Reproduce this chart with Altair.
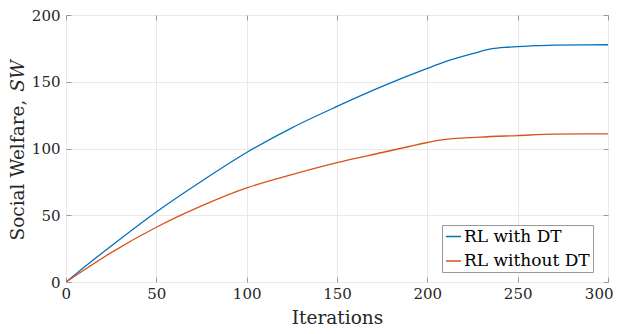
import altair as alt
import pandas as pd

# Series
iter_dt = [0, 10, 25, 50, 75, 100, 125, 150, 175, 200, 210, 225, 236, 243, 250, 260, 270, 300]
sw_dt = [0, 11, 27, 52.5, 75.5, 97, 115.5, 131.5, 146.5, 160, 165, 171, 174.8, 175.8, 176.3, 177, 177.5, 177.7]

iter_nodt = [0, 10, 25, 50, 75, 100, 125, 150, 175, 190, 200, 207, 229, 250, 270, 300]
sw_nodt = [0, 9, 22, 41, 57, 70.5, 80.5, 89.5, 97, 101.5, 104.5, 106.3, 108.5, 109.7, 110.8, 111]

series_names = ["RL with DT", "RL without DT"]
series_colors = ["#0072BD", "#D95319"]

x_ticks = [0, 50, 100, 150, 200, 250, 300]
y_ticks = [0, 50, 100, 150, 200]

ytitle_main = ["Social Welfare,"]
ytitle_sym = ["SW"]

rows = [{"Iterations": i, "SW": v, "Series": series_names[0]} for i, v in zip(iter_dt, sw_dt)]
rows += [{"Iterations": i, "SW": v, "Series": series_names[1]} for i, v in zip(iter_nodt, sw_nodt)]
df = pd.DataFrame(rows)

FONT = "DejaVu Serif"
FRAME = "#9a9a9a"
TXT = "#262626"

xscale = alt.Scale(domain=[0, 300], nice=False, zero=False)
yscale = alt.Scale(domain=[0, 200], nice=False, zero=False)

lines = alt.Chart(df).mark_line(strokeWidth=1.3, clip=True, interpolate="monotone").encode(
    x=alt.X("Iterations:Q", scale=xscale,
            axis=alt.Axis(orient="bottom", values=x_ticks, title="Iterations", grid=True,
                          domain=False, ticks=True, tickSize=5, offset=-5, tickColor=FRAME,
                          labelPadding=4, labelFlush=True, labelFlushOffset=5,
                          labelFont=FONT, labelFontSize=15, labelColor=TXT,
                          titleFont=FONT, titleFontSize=18.5,
                          titleFontWeight="normal", titleColor=TXT, titlePadding=7,
                          gridColor="#e9e9e9", gridWidth=1)),
    y=alt.Y("SW:Q", scale=yscale,
            axis=alt.Axis(orient="left", values=y_ticks, title=None, grid=True,
                          domain=False, ticks=True, tickSize=5, offset=-5, tickColor=FRAME,
                          labelPadding=6, labelFlush=False, labelFont=FONT, labelFontSize=15,
                          labelColor=TXT, gridColor="#e9e9e9", gridWidth=1)),
    color=alt.Color("Series:N",
                    scale=alt.Scale(domain=series_names, range=series_colors),
                    legend=alt.Legend(orient="none", legendX=376, legendY=210, title=None,
                                      symbolType="stroke", symbolSize=225, symbolStrokeWidth=1.5,
                                      labelFont=FONT, labelFontSize=17, labelColor="#000000",
                                      labelOffset=2, rowPadding=6.5, padding=3,
                                      strokeColor=FRAME, fillColor="#ffffff")),
)

ticks_tr = alt.Chart(df).mark_line(opacity=0).encode(
    x=alt.X("Iterations:Q", scale=xscale,
            axis=alt.Axis(orient="top", values=x_ticks, title=None, labels=False, grid=False,
                          domain=False, ticks=True, tickSize=5, offset=-5, tickColor=FRAME)),
    y=alt.Y("SW:Q", scale=yscale,
            axis=alt.Axis(orient="right", values=y_ticks, title=None, labels=False, grid=False,
                          domain=False, ticks=True, tickSize=5, offset=-5, tickColor=FRAME)),
)

t_main = alt.Chart(pd.DataFrame({"t": ytitle_main})).mark_text(
    angle=270, align="left", baseline="alphabetic", font=FONT, fontSize=18.5, color=TXT
).encode(x=alt.value(-42), y=alt.value(225.5), text="t:N")

t_sym = alt.Chart(pd.DataFrame({"t": ytitle_sym})).mark_text(
    angle=270, align="right", baseline="alphabetic", font=FONT, fontSize=18.5,
    fontStyle="italic", color=TXT
).encode(x=alt.value(-42), y=alt.value(45), text="t:N")

chart = alt.layer(lines, ticks_tr, t_main, t_sym).resolve_axis(
    x="independent", y="independent"
).properties(
    width=542, height=267,
    autosize=alt.AutoSizeParams(type="none"),
    padding={"left": 58, "top": 7, "right": 6, "bottom": 44},
).configure(font=FONT).configure_view(stroke=FRAME, strokeWidth=1)

chart.save("out.html", embed_options={"renderer": "svg", "actions": False})
